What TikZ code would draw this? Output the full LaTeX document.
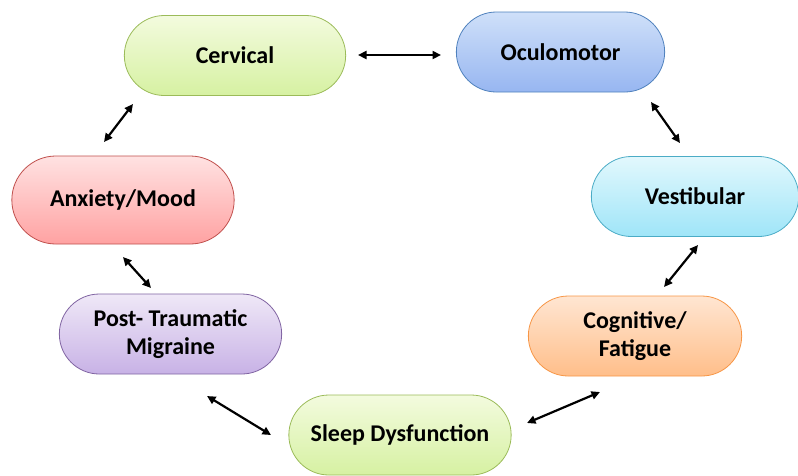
\documentclass[tikz,border=0pt]{standalone}
\usepackage{fontspec}
\setmainfont{Carlito}
\usetikzlibrary{shapes.misc,arrows.meta}

\definecolor{grnTop}{HTML}{F3FBDE}
\definecolor{grnBot}{HTML}{D6F1A2}
\definecolor{grnLine}{HTML}{9BBB59}
\definecolor{bluTop}{HTML}{CFE0F9}
\definecolor{bluBot}{HTML}{97B6F1}
\definecolor{bluLine}{HTML}{4F81BD}
\definecolor{cyaTop}{HTML}{E2F8FD}
\definecolor{cyaBot}{HTML}{9FE5F8}
\definecolor{cyaLine}{HTML}{4BACC6}
\definecolor{redTop}{HTML}{FFE2E2}
\definecolor{redBot}{HTML}{FFA2A2}
\definecolor{redLine}{HTML}{C0504D}
\definecolor{vioTop}{HTML}{EFE8F7}
\definecolor{vioBot}{HTML}{C8B2E6}
\definecolor{vioLine}{HTML}{8064A2}
\definecolor{orgTop}{HTML}{FFE6D2}
\definecolor{orgBot}{HTML}{FFBE8A}
\definecolor{orgLine}{HTML}{F79646}

\tikzset{
	pill/.style={rounded rectangle, minimum width=228pt, minimum height=80pt,
		line width=0.8pt, align=center, font=\bfseries\fontsize{24}{28.5}\selectfont},
	grnpill/.style={pill, draw=grnLine, top color=grnTop, bottom color=grnBot},
	blupill/.style={pill, draw=bluLine, top color=bluTop, bottom color=bluBot},
	cyapill/.style={pill, draw=cyaLine, top color=cyaTop, bottom color=cyaBot},
	redpill/.style={pill, draw=redLine, top color=redTop, bottom color=redBot},
	viopill/.style={pill, draw=vioLine, top color=vioTop, bottom color=vioBot},
	orgpill/.style={pill, draw=orgLine, top color=orgTop, bottom color=orgBot},
	link/.style={line width=2.2pt, {Triangle[length=8.5pt,width=8pt]}-{Triangle[length=8.5pt,width=8pt]}}
}

\begin{document}
\begin{tikzpicture}[x=1pt, y=-1pt]
	\clip (0,0) rectangle (798,475);
	
	% Draw nodes
	\node[grnpill] (cerv) at (235,55.5) {Cervical};
	\node[blupill, minimum width=215pt] (ocu) at (560.5,52) {Oculomotor};
	\node[cyapill, minimum width=214pt] (vest) at (695,196.5) {Vestibular};
	\node[redpill, minimum width=229pt, minimum height=88pt] (anx) at (123,200) {Anxiety/Mood};
	\node[viopill, minimum width=229pt] (ptm) at (170.5,334) {Post- Traumatic\\Migraine};
	\node[orgpill, minimum width=220pt] (cogn) at (635,336) {Cognitive/\\Fatigue};
	\node[grnpill, minimum width=229pt] (sleep) at (400,435) {Sleep Dysfunction};
	
	% Arrow ends
	\coordinate (cerv-r) at (358,55);  \coordinate (ocu-l) at (441,55);
	\coordinate (ocu-b) at (651,102);  \coordinate (vest-t) at (680,143);
	\coordinate (vest-b) at (698,245); \coordinate (cogn-t) at (664,287);
	\coordinate (cogn-b) at (600,392); \coordinate (sleep-r) at (527,423);
	\coordinate (sleep-l) at (271,435); \coordinate (ptm-b) at (207,396);
	\coordinate (ptm-t) at (151,288);  \coordinate (anx-b) at (123,257);
	\coordinate (anx-t) at (104,142);  \coordinate (cerv-b) at (133,104);
	
	% Draw arrows
	\draw[link] (cerv-r) -- (ocu-l);
	\draw[link] (ocu-b) -- (vest-t);
	\draw[link] (vest-b) -- (cogn-t);
	\draw[link] (cogn-b) -- (sleep-r);
	\draw[link] (sleep-l) -- (ptm-b);
	\draw[link] (ptm-t) -- (anx-b);
	\draw[link] (anx-t) -- (cerv-b);
\end{tikzpicture}
\end{document}
